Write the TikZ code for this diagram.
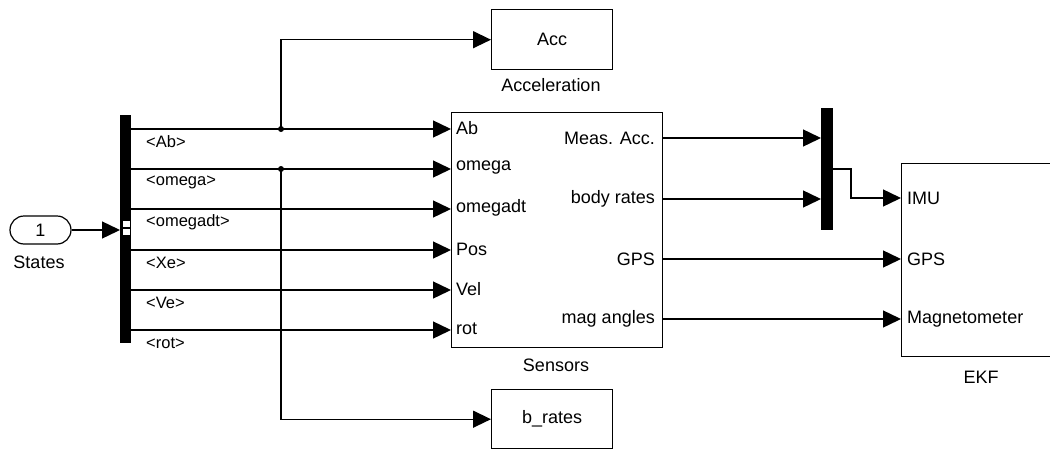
\documentclass[tikz,border=0pt]{standalone}
\usepackage{fontspec}
\setmainfont{Liberation Sans}
\usetikzlibrary{arrows.meta}
\begin{document}
\begin{tikzpicture}[x=1pt,y=-1pt,
  wire/.style={line width=1.4pt},
  sig/.style={wire,-{Triangle[length=18pt,width=17pt]}},
  blk/.style={draw,line width=1.4pt,anchor=north west,inner sep=0pt,
    font=\fontsize{18}{21}\selectfont},
  bar/.style={fill=black,draw=none,anchor=north west,inner sep=0pt},
  blklabel/.style={font=\fontsize{18}{21}\selectfont,inner sep=0pt},
  port/.style={font=\fontsize{18}{21}\selectfont,inner sep=0pt},
  sel/.style={font=\fontsize{16.5}{19}\selectfont,inner sep=0pt,anchor=west},
  dot/.style={circle,fill=black,inner sep=0pt,minimum size=6pt}]
\useasboundingbox (0,0) rectangle (1050,450);
\clip (0,0) rectangle (1050,450);

% inport
\node[draw,line width=1.2pt,rounded corners=14pt,minimum width=61pt,minimum height=28pt,
  inner sep=0pt,font=\fontsize{18}{21}\selectfont] (in) at (40.5,230) {1};
\node[blklabel] (inlbl) at (39,262) {States};

% bus selector
\node[bar,minimum width=11pt,minimum height=228pt] (bus) at (120,115) {};
\node[fill=white,draw=black,line width=0.6pt,minimum width=8pt,minimum height=7pt,inner sep=0pt,anchor=north west] (bp1) at (122,220) {};
\node[fill=white,draw=black,line width=0.6pt,minimum width=8pt,minimum height=7pt,inner sep=0pt,anchor=north west] (bp2) at (122,228) {};
\draw[sig] (in.east) -- (bus.west |- in.east);

% blocks
\node[blk,minimum width=121pt,minimum height=60pt] (acc) at (491,9) {Acc};
\node[blklabel] (acclbl) at (551,85) {Acceleration};
\node[blk,minimum width=211pt,minimum height=235pt] (sens) at (451,112) {};
\node[blklabel] (senslbl) at (556,365) {Sensors};
\node[blk,minimum width=121pt,minimum height=59pt] (brates) at (491,389) {b\_rates};
\node[bar,minimum width=12pt,minimum height=122pt] (mux) at (821,108) {};
\node[blk,minimum width=170pt,minimum height=193pt] (ekf) at (901,163) {};
\node[blklabel] (ekflbl) at (981,377) {EKF};

% bus outputs and Sensors inputs
\foreach \y/\sig/\inp [count=\i] in {129/Ab/Ab, 169/omega/omega, 209/omegadt/omegadt,
    250/Xe/Pos, 290/Ve/Vel, 330/rot/rot} {
  \coordinate (b\i) at (131,\y);
  \node[sel] (s\i) at (146,\y+13) {<\sig>};
  \node[port,anchor=west] (p\i) at (456,\y-1) {\inp};
  \draw[sig] (b\i) -- (sens.west |- b\i);
}

% branches to Acc and b_rates
\node[dot] (j1) at (281,129) {};
\node[dot] (j2) at (281,169) {};
\draw[sig] (j1.center) |- (acc.west);
\draw[sig] (j2.center) |- (brates.west);

% Sensors outputs
\foreach \y/\txt [count=\i] in {138/Meas. Acc., 199/body rates, 259/GPS, 319/mag angles} {
  \coordinate (o\i) at (662,\y);
  \node[port,anchor=east] (q\i) at (655,\y) {\txt};
}
\draw[sig] (o1) -- (mux.west |- o1);
\draw[sig] (o2) -- (mux.west |- o2);

% EKF inputs
\foreach \y/\txt [count=\i] in {198/IMU, 259/GPS, 319/Magnetometer} {
  \coordinate (e\i) at (901,\y);
  \node[port,anchor=west] (r\i) at (907,\y) {\txt};
}
\coordinate (mo) at (833,169);
\draw[sig] (mo) -- (851,169) |- (e1);
\draw[sig] (o3) -- (e2);
\draw[sig] (o4) -- (e3);
\end{tikzpicture}
\end{document}
